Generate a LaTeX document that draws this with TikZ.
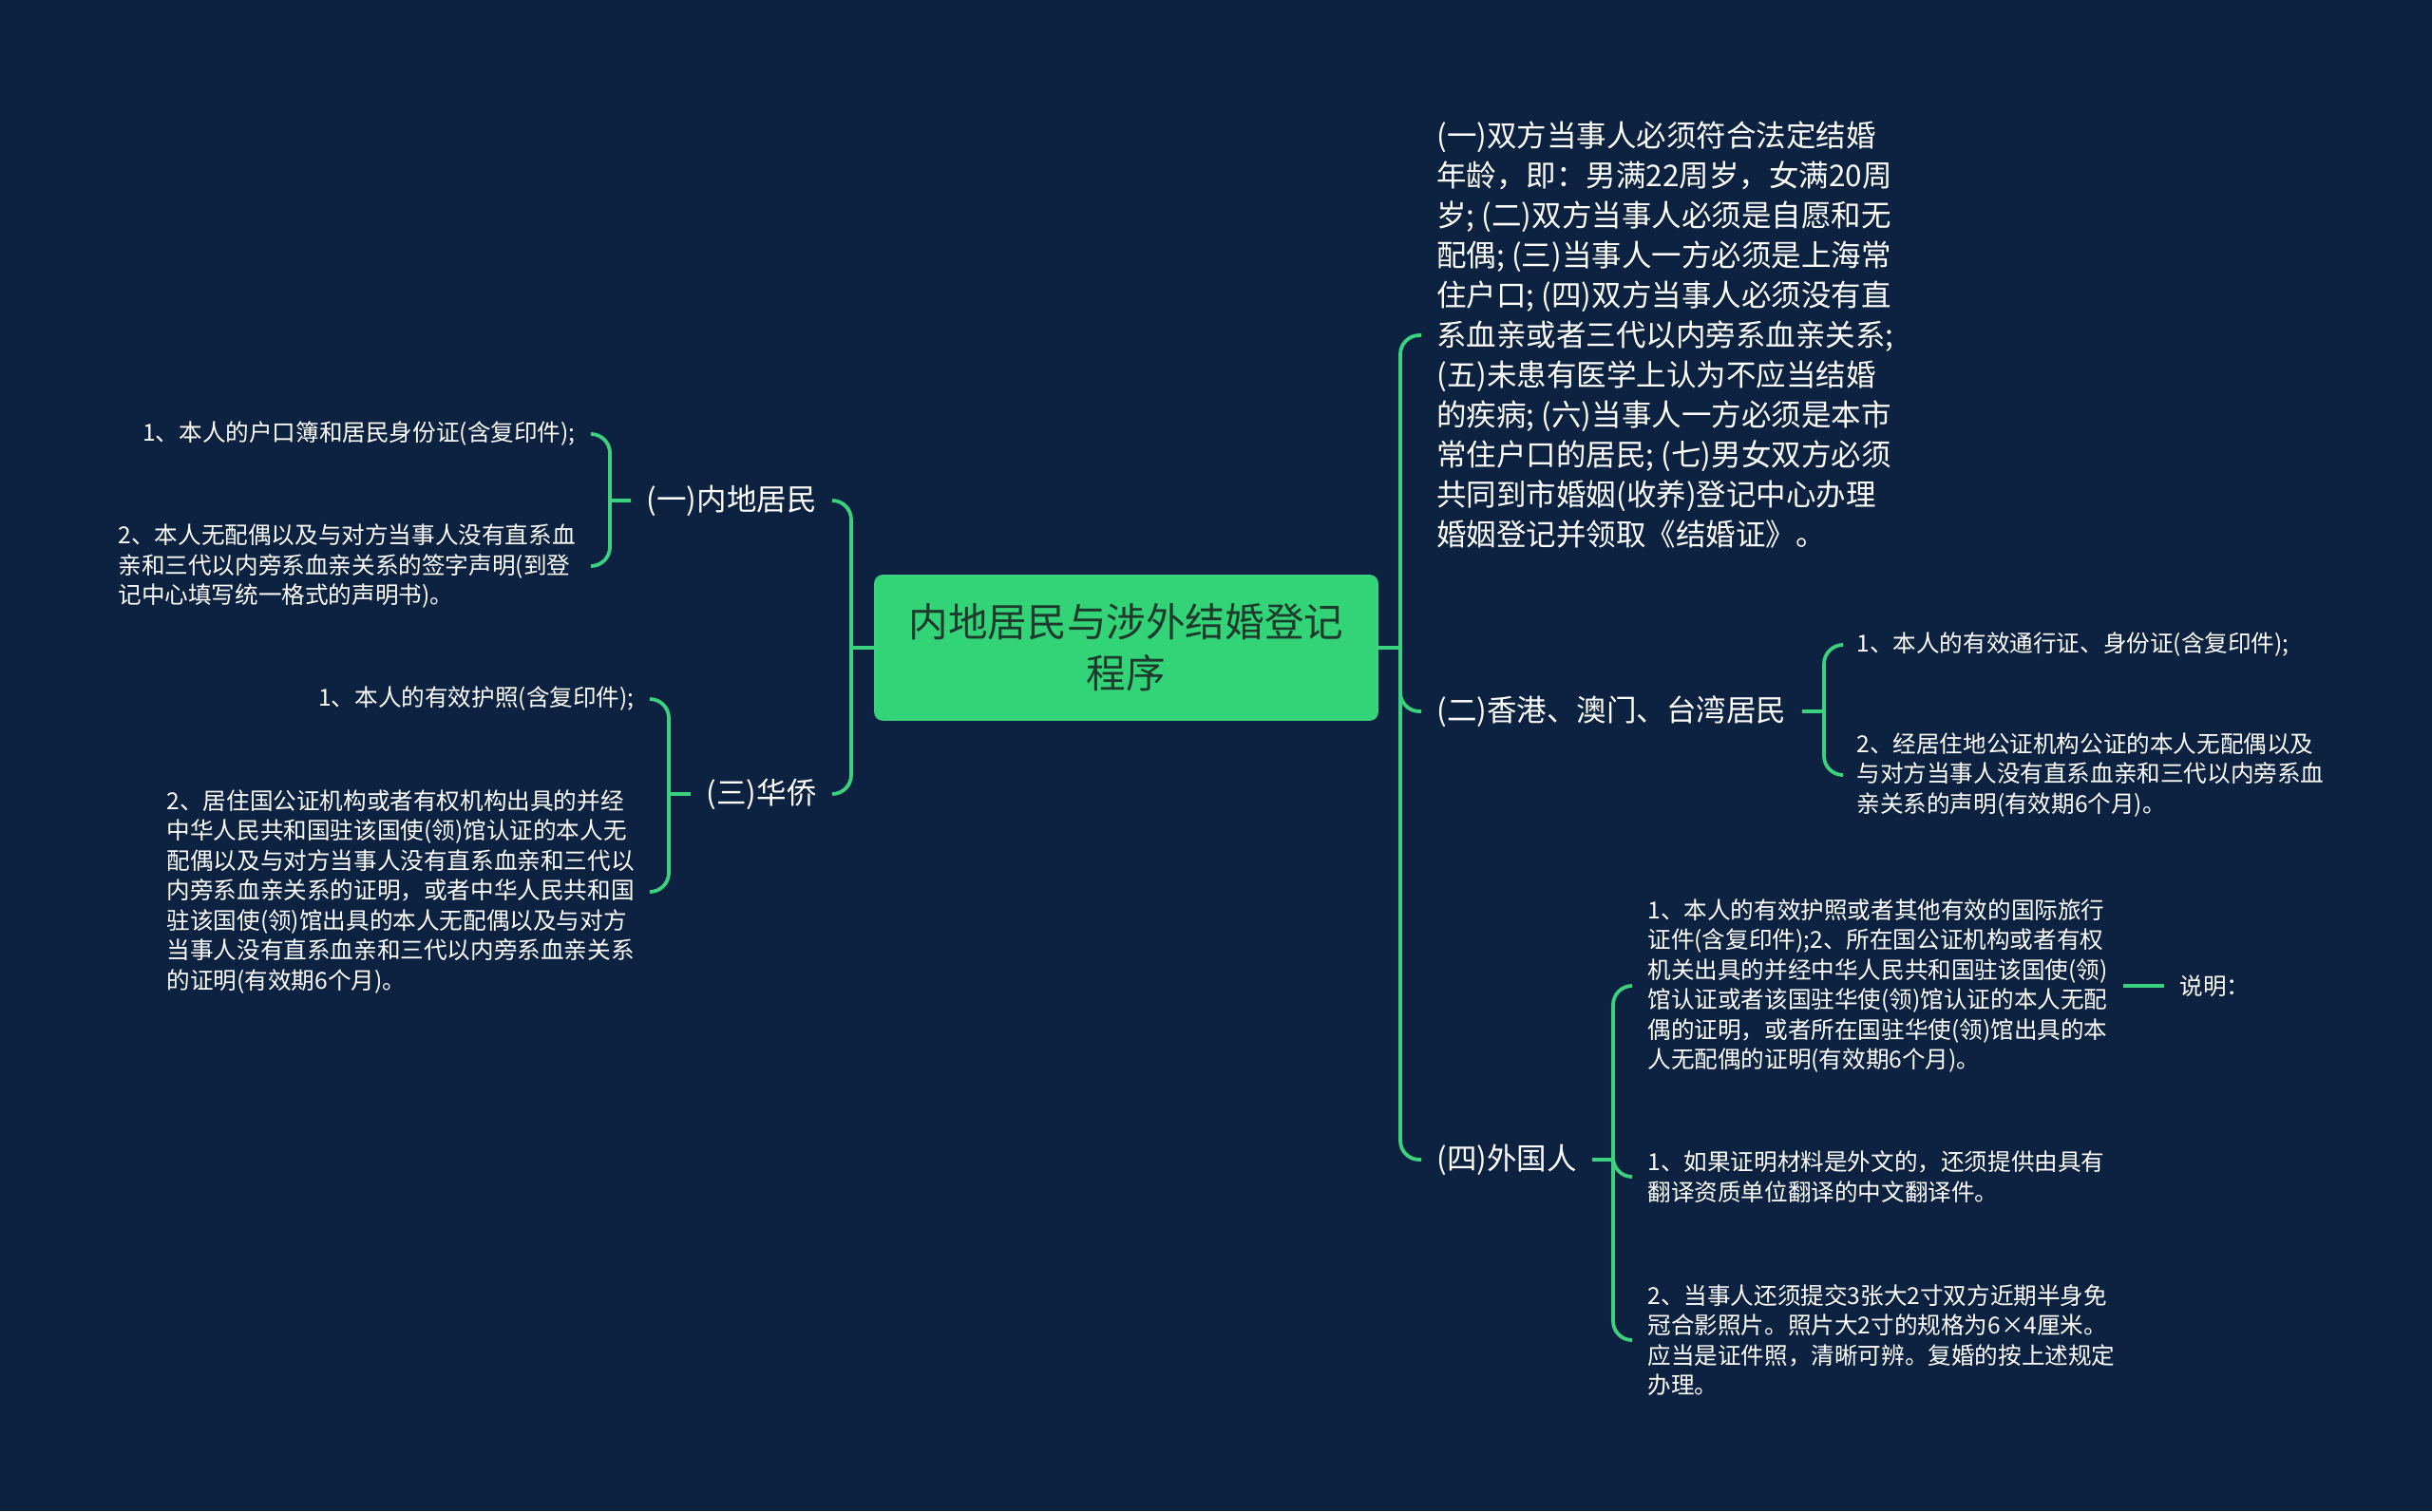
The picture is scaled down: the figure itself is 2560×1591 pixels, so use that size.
\documentclass[tikz,border=0pt]{standalone}
\usepackage{fontspec}
\setmainfont{Noto Sans CJK SC}
\definecolor{bgc}{HTML}{0C2240}
\definecolor{lineg}{HTML}{3AD27E}
\definecolor{rootg}{HTML}{33D377}
\definecolor{roottxt}{HTML}{1E3A2C}
\tikzset{
  conn/.style={draw=lineg, line width=1.9pt, rounded corners=10pt},
  leaf/.style={text=white, font=\fontsize{12.3pt}{15.75pt}\selectfont, align=left, inner xsep=8pt, inner ysep=0pt},
  lvl/.style={text=white, font=\fontsize{15.75pt}{21pt}\selectfont, align=left, inner xsep=8pt, inner ysep=0pt},
  rootbox/.style={fill=rootg, draw=lineg, line width=0.8pt, rounded corners=4pt, minimum width=264.5pt, minimum height=76pt, align=center, text=roottxt, font=\fontsize{20.8pt}{27pt}\selectfont, inner sep=0pt}
}
\begin{document}
\begin{tikzpicture}[x=0.5pt,y=-0.5pt]
\fill[bgc] (0,0) rectangle (2560,1591);
\useasboundingbox (0,0) rectangle (2560,1591);

\node[rootbox] (root) at (1185.5,682) {内地居民与涉外结婚登记\\程序};

% right side
\coordinate (jR) at (1474,682);
\node[lvl, anchor=west] (A) at (1496,353) {(一)双方当事人必须符合法定结婚\\年龄，即：男满22周岁，女满20周\\岁; (二)双方当事人必须是自愿和无\\配偶; (三)当事人一方必须是上海常\\住户口; (四)双方当事人必须没有直\\系血亲或者三代以内旁系血亲关系;\\(五)未患有医学上认为不应当结婚\\的疾病; (六)当事人一方必须是本市\\常住户口的居民; (七)男女双方必须\\共同到市婚姻(收养)登记中心办理\\婚姻登记并领取《结婚证》。};
\node[lvl, anchor=west] (B) at (1496,749) {(二)香港、澳门、台湾居民};
\node[lvl, anchor=west] (C) at (1496,1221) {(四)外国人};

\coordinate (jB) at (1920,749);
\node[leaf, anchor=west] (B1) at (1938,679) {1、本人的有效通行证、身份证(含复印件);};
\node[leaf, anchor=west] (B2) at (1938,816) {2、经居住地公证机构公证的本人无配偶以及\\与对方当事人没有直系血亲和三代以内旁系血\\亲关系的声明(有效期6个月)。};

\coordinate (jC) at (1698,1221);
\node[leaf, anchor=west] (C1) at (1718,1038) {1、本人的有效护照或者其他有效的国际旅行\\证件(含复印件);2、所在国公证机构或者有权\\机关出具的并经中华人民共和国驻该国使(领)\\馆认证或者该国驻华使(领)馆认证的本人无配\\偶的证明，或者所在国驻华使(领)馆出具的本\\人无配偶的证明(有效期6个月)。};
\node[leaf, anchor=west] (note) at (2278,1038) {说明：};
\node[leaf, anchor=west] (C2) at (1718,1239) {1、如果证明材料是外文的，还须提供由具有\\翻译资质单位翻译的中文翻译件。};
\node[leaf, anchor=west] (C3) at (1718,1411) {2、当事人还须提交3张大2寸双方近期半身免\\冠合影照片。照片大2寸的规格为6×4厘米。\\应当是证件照，清晰可辨。复婚的按上述规定\\办理。};

% left side
\coordinate (jL) at (896,682);
\node[lvl, anchor=east] (D) at (876,527) {(一)内地居民};
\node[lvl, anchor=east] (E) at (876,836) {(三)华侨};

\coordinate (jD) at (642,527);
\node[leaf, anchor=east] (D1) at (622,457) {1、本人的户口簿和居民身份证(含复印件);};
\node[leaf, anchor=east] (D2) at (622,596) {2、本人无配偶以及与对方当事人没有直系血\\亲和三代以内旁系血亲关系的签字声明(到登\\记中心填写统一格式的声明书)。};

\coordinate (jE) at (704,836);
\node[leaf, anchor=east] (E1) at (684,736) {1、本人的有效护照(含复印件);};
\node[leaf, anchor=east] (E2) at (684,939) {2、居住国公证机构或者有权机构出具的并经\\中华人民共和国驻该国使(领)馆认证的本人无\\配偶以及与对方当事人没有直系血亲和三代以\\内旁系血亲关系的证明，或者中华人民共和国\\驻该国使(领)馆出具的本人无配偶以及与对方\\当事人没有直系血亲和三代以内旁系血亲关系\\的证明(有效期6个月)。};

% connectors right
\draw[conn] (root.east) -- (jR);
\draw[conn] (jR) |- (A.west);
\draw[conn] (jR) |- (B.west);
\draw[conn] (jR) |- (C.west);
\draw[conn] (B.east) -- (jB);
\draw[conn] (jB) |- (B1.west);
\draw[conn] (jB) |- (B2.west);
\draw[conn] (C.east) -- (jC);
\draw[conn] (jC) |- (C1.west);
\draw[conn] (jC) |- (C2.west);
\draw[conn] (jC) |- (C3.west);
\draw[conn] (C1.east) -- (note.west);

% connectors left
\draw[conn] (root.west) -- (jL);
\draw[conn] (jL) |- (D.east);
\draw[conn] (jL) |- (E.east);
\draw[conn] (D.west) -- (jD);
\draw[conn] (jD) |- (D1.east);
\draw[conn] (jD) |- (D2.east);
\draw[conn] (E.west) -- (jE);
\draw[conn] (jE) |- (E1.east);
\draw[conn] (jE) |- (E2.east);
\end{tikzpicture}
\end{document}
